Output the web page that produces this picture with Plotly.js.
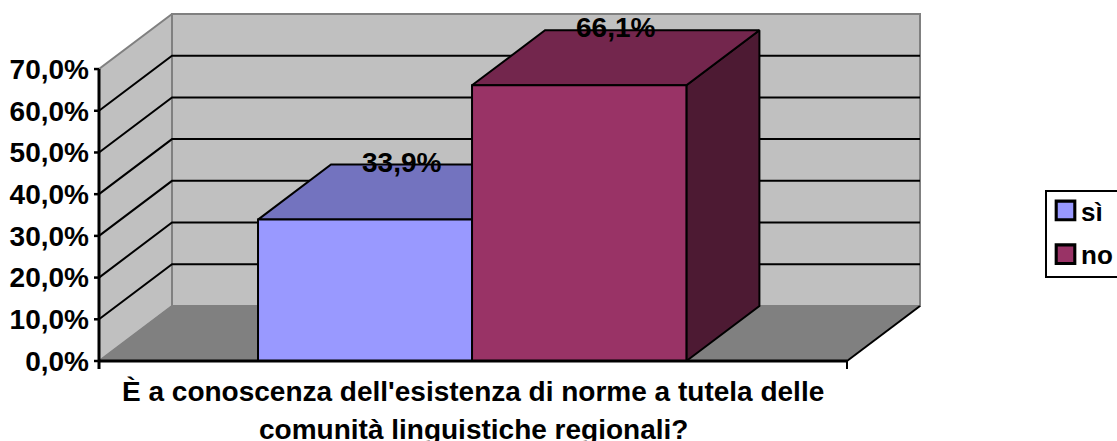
<!DOCTYPE html>
<html>
<head>
<meta charset="utf-8">
<script src="https://cdn.plot.ly/plotly-3.0.1.min.js"></script>
<style>html,body{margin:0;padding:0;background:#fff;overflow:hidden}#c{width:1117px;height:441px}</style>
</head>
<body>
<div id="c"></div>
<script>
const seriesNames = ['sì', 'no'];
const seriesValues = [33.9, 66.1];
const valueLabels = ['33,9%', '66,1%'];
const yTickValues = [0, 10, 20, 30, 40, 50, 60, 70];
const yTickLabels = ['0,0%', '10,0%', '20,0%', '30,0%', '40,0%', '50,0%', '60,0%', '70,0%'];
const titleLines = ["È a conoscenza dell'esistenza di norme a tutela delle", 'comunità linguistiche regionali?'];

const frontColors = ['#9999FF', '#993366'];
const topColors = ['#7373BF', '#73264D'];
const sideColors = ['#4D4D80', '#4D1A33'];

// Oblique projection used for the depth of the chart, in axis units
const depthX = 0.0976, depthY = 13.2;
const barStarts = [0.2126, 0.4987], barWidth = 0.2866;
const yMax = 70, font = 'Liberation Sans, Arial, sans-serif', fs = 28;
// one axis unit in pixels; tick marks live inside the slack left around the axes
const pxX = 1 / 748, pxY = 1 / 4.17, tickX = 5 * pxX, tickY = 8 * pxY;

const poly = (x, y, fill, line, w) => ({
  type: 'scatter', mode: 'lines', x, y, fill: 'toself', fillcolor: fill,
  line: {color: line, width: w}, showlegend: false, hoverinfo: 'skip', cliponaxis: false
});
const seg = (x, y, color, w, ax) => ({
  type: 'scatter', mode: 'lines', x, y, line: {color, width: w}, showlegend: false,
  hoverinfo: 'skip', cliponaxis: false, xaxis: ax ? 'x2' : 'x', yaxis: ax ? 'y2' : 'y'
});

const traces = [];
// back wall, side wall, floor
traces.push(poly([depthX, 1 + depthX, 1 + depthX, depthX, depthX], [depthY, depthY, yMax + depthY, yMax + depthY, depthY], '#C0C0C0', '#808080', 2));
traces.push(poly([0, depthX, depthX, 0, 0], [0, depthY, yMax + depthY, yMax, 0], '#C0C0C0', '#808080', 2));
traces.push(poly([0, 1, 1 + depthX, depthX, 0], [0, 0, depthY, depthY, 0], '#808080', '#808080', 1));
// gridlines
yTickValues.slice(1, -1).forEach(v => {
  traces.push(seg([0, depthX, 1 + depthX], [v, v + depthY, v + depthY], '#000', 2));
});
traces.push(seg([1, 1 + depthX], [0, depthY], '#000', 2));
// bar tops and sides
seriesValues.forEach((v, i) => {
  const a = barStarts[i], b = a + barWidth;
  traces.push(poly([b, b + depthX, b + depthX, b, b], [0, depthY, v + depthY, v, 0], sideColors[i], '#000', 2));
  traces.push(poly([a, b, b + depthX, a + depthX, a], [v, v, v + depthY, v + depthY, v], topColors[i], '#000', 2));
});
// bar fronts on the overlay axes, so they sit above the scatter faces
seriesValues.forEach((v, i) => {
  traces.push({
    type: 'bar', name: seriesNames[i], x: [barStarts[i] + barWidth / 2], y: [v], width: [barWidth],
    marker: {color: frontColors[i], line: {color: '#000', width: 2}},
    xaxis: 'x2', yaxis: 'y2', hoverinfo: 'skip', cliponaxis: false
  });
});
// front axis lines and their tick marks
traces.push(seg([0, 1], [0, 0], '#000', 3, true));
traces.push(seg([0, 0], [-tickY, yMax], '#000', 3, true));
traces.push(seg([1, 1], [-tickY, 0], '#000', 2, true));
yTickValues.forEach(v => traces.push(seg([-tickX, 0], [v, v], '#000', 2.5, true)));
// value labels
traces.push({
  type: 'scatter', mode: 'text', xaxis: 'x2', yaxis: 'y2', showlegend: false, hoverinfo: 'skip', cliponaxis: false,
  x: seriesValues.map((v, i) => barStarts[i] + barWidth / 2 + depthX / 2),
  y: seriesValues.map(v => v + depthY),
  text: valueLabels, textposition: 'middle center',
  textfont: {family: font, size: fs, color: '#000', weight: 700}
});

const xr = [-tickX, 1 + depthX + 3 * pxX], yr = [-tickY, 83.2 + 3 * pxY];
const plotTop = 11, plotH = 358;
const layout = {
  width: 1117, height: 441, margin: {l: 94, r: 194, t: plotTop, b: 72, pad: 0},
  paper_bgcolor: '#fff', plot_bgcolor: 'rgba(0,0,0,0)', hovermode: false, barmode: 'overlay',
  font: {family: font, size: fs, color: '#000', weight: 700},
  xaxis: {range: xr, showticklabels: false, ticks: '', showgrid: false, zeroline: false, showline: false, fixedrange: true},
  yaxis: {range: yr, tickmode: 'array', tickvals: yTickValues, ticktext: yTickLabels, ticks: '', ticklabelstandoff: 4,
          showgrid: false, zeroline: false, showline: false, fixedrange: true,
          tickfont: {family: font, size: fs, color: '#000', weight: 700}},
  xaxis2: {range: xr, overlaying: 'x', visible: false, fixedrange: true},
  yaxis2: {range: yr, overlaying: 'y', visible: false, fixedrange: true},
  legend: {x: 1045 / 1117, xref: 'container', y: 1 - 190 / 441, yref: 'container', xanchor: 'left', yanchor: 'top',
           bgcolor: '#fff', bordercolor: '#000', borderwidth: 2,
           font: {family: font, size: 26, color: '#000', weight: 700}, traceorder: 'normal', itemwidth: 30, itemclick: false, itemdoubleclick: false},
  annotations: titleLines.map((t, i) => ({
    text: t, x: 0.5, xref: 'x', y: 1 - ((i ? 429 : 392) - plotTop) / plotH, yref: 'paper', showarrow: false, xanchor: 'center', yanchor: 'middle',
    font: {family: font, size: fs, color: '#000', weight: 700}
  }))
};
Plotly.newPlot('c', traces, layout, {displayModeBar: false, staticPlot: true}).then(() => {
  // Match the legend's larger swatches and row spacing
  const rowShift = [-5, 2];
  document.querySelectorAll('.legend .traces').forEach((g, i) => {
    const m = /translate\(([-\d.]+),\s*([-\d.]+)\)/.exec(g.getAttribute('transform'));
    if (m) g.setAttribute('transform', `translate(${+m[1]},${+m[2] + rowShift[i]})`);
    const sym = g.querySelector('.legendsymbols');
    if (sym) sym.setAttribute('transform', 'translate(-1.5,0) translate(20,0) scale(1.55) translate(-20,0)');
    const txt = g.querySelector('.legendtext');
    if (txt) txt.setAttribute('x', +txt.getAttribute('x') - 6);
  });
});
</script>
</body>
</html>
